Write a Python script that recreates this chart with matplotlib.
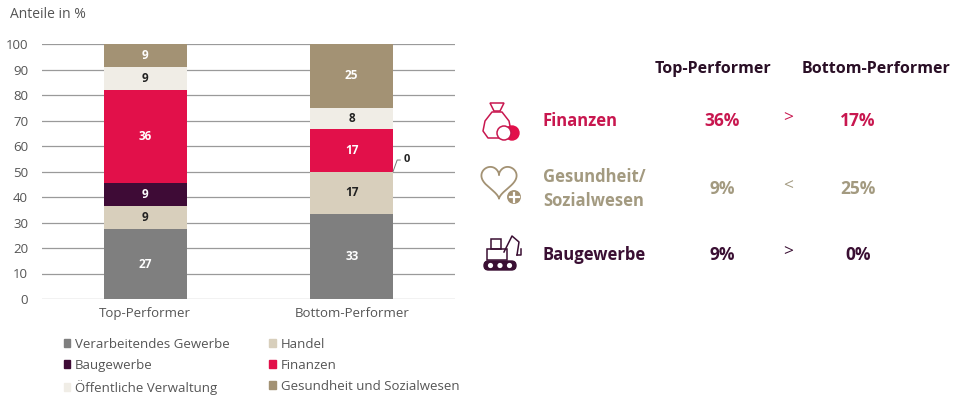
import matplotlib
matplotlib.use('Agg')
import matplotlib.pyplot as plt
from matplotlib.patches import Patch, Circle, Rectangle, FancyBboxPatch, Polygon
import numpy as np

plt.rcParams['font.family'] = ['Open Sans', 'DejaVu Sans']

groups = ['Top-Performer', 'Bottom-Performer']
sectors = ['Verarbeitendes Gewerbe', 'Handel', 'Baugewerbe', 'Finanzen',
           'Öffentliche Verwaltung', 'Gesundheit und Sozialwesen']
top_vals = [27.3, 9.1, 9.1, 36.4, 9.1, 9.1]
bottom_vals = [33.3, 16.7, 0.0, 16.7, 8.3, 25.0]
colors = ['#7f7f7f', '#d8cfbc', '#3e0b36', '#e2104a', '#f0ede6', '#a39274']
text_colors = ['white', '#222222', 'white', 'white', '#222222', 'white']

# comparison table on the right
tbl_rows = ['Finanzen', 'Gesundheit/\nSozialwesen', 'Baugewerbe']
tbl_top = ['36%', '9%', '9%']
tbl_bottom = ['17%', '25%', '0%']
tbl_sign = ['>', '<', '>']
tbl_colors = ['#c8174f', '#a39a80', '#3a0f33']

fig = plt.figure(figsize=(9.6, 4), dpi=100)
ax = fig.add_axes([42/960, 1-299/400, (455-42)/960, (299-44)/400])

data = np.array([top_vals, bottom_vals])
x = np.arange(len(groups))
bottoms = np.zeros(len(groups))
for i, s in enumerate(sectors):
    vals = data[:, i]
    ax.bar(x, vals, 0.4, bottom=bottoms, color=colors[i], label=s, zorder=3)
    for j in range(len(groups)):
        if vals[j] > 0:
            ax.text(x[j], bottoms[j] + vals[j]/2, str(int(round(vals[j]))),
                    ha='center', va='center', fontsize=8.5, fontweight='bold',
                    color=text_colors[i], zorder=4)
        else:
            yy = bottoms[j]
            ax.plot([x[j]+0.2, x[j]+0.22, x[j]+0.235], [yy, yy+4.5, yy+4.5],
                    color='#777777', lw=0.7, zorder=4)
            ax.text(x[j]+0.25, yy+4.7, '0', ha='left', va='center',
                    fontsize=8, fontweight='bold', color='#222222')
    bottoms += vals

ax.set_xlim(-0.5, 1.5)
ax.set_ylim(0, 100)
ax.set_yticks(range(0, 101, 10))
ax.yaxis.grid(True, color='#9a9a9a', lw=0.9, zorder=0)
ax.set_axisbelow(True)
for sp in ax.spines.values():
    sp.set_visible(False)
ax.tick_params(axis='both', length=0, labelsize=9.5, colors='#555555', pad=6)
ax.tick_params(axis='y', pad=10)
ax.set_xticks(x)
ax.set_xticklabels(groups)

fig.text(10/960, 1-15/400, 'Anteile in %', fontsize=10, color='#555555', va='center')

handles = [Patch(color=colors[i]) for i in [0, 2, 4, 1, 3, 5]]
labels = [sectors[i] for i in [0, 2, 4, 1, 3, 5]]
fig.legend(handles, labels, ncol=2, loc='upper left',
           bbox_to_anchor=(52/960, 1-326/400), frameon=False,
           fontsize=9.5, handlelength=0.5, handleheight=0.5, handletextpad=0.35,
           columnspacing=3.0, labelspacing=0.6, labelcolor='#555555')

# right panel in pixel coordinates
ov = fig.add_axes([0, 0, 1, 1])
ov.set_xlim(0, 960)
ov.set_ylim(400, 0)
ov.axis('off')

ov.text(713, 69, 'Top-Performer', ha='center', va='center', fontsize=11.5,
        fontweight='bold', color='#2a0f26')
ov.text(876, 69, 'Bottom-Performer', ha='center', va='center', fontsize=11.5,
        fontweight='bold', color='#2a0f26')
row_y = [121, 189, 255]
for k in range(3):
    c = tbl_colors[k]
    ov.text(543, row_y[k], tbl_rows[k], ha='left', va='center', fontsize=12,
            fontweight='bold', color=c, linespacing=1.45)
    ov.text(722, row_y[k], tbl_top[k], ha='center', va='center', fontsize=12.5,
            fontweight='bold', color=c)
    ov.text(788, row_y[k] - 3, tbl_sign[k], ha='center', va='center', fontsize=12.5,
            color=c)
    ov.text(858, row_y[k], tbl_bottom[k], ha='center', va='center', fontsize=12.5,
            fontweight='bold', color=c)

# icon: money bag with coins
c0 = tbl_colors[0]
bag = Polygon([(492, 112), (485, 121), (483, 131), (488, 138), (506, 138),
               (511, 131), (509, 121), (502, 112)], closed=True, fill=False,
              ec=c0, lw=1.1, joinstyle='round')
ov.add_patch(bag)
ov.add_patch(Polygon([(490, 103), (504, 103), (500, 111), (494, 111)], closed=True,
                     fill=False, ec=c0, lw=1.1))
ov.add_patch(Circle((512, 133), 7, color='#e2104a'))
ov.add_patch(Circle((504, 133), 7, fc='white', ec=c0, lw=1.1))

# icon: heart with plus
c1 = '#a39274'
t = np.linspace(0, 2*np.pi, 200)
hx = 16*np.sin(t)**3
hy = 13*np.cos(t) - 5*np.cos(2*t) - 2*np.cos(3*t) - np.cos(4*t)
ov.plot(499 + hx*1.1, 180 - hy*1.1, color=c1, lw=1.3)
ov.add_patch(Circle((514, 197), 8, color=c1, ec='white', lw=1.5))
ov.plot([509.5, 518.5], [197, 197], color='white', lw=1.6)
ov.plot([514, 514], [192.5, 201.5], color='white', lw=1.6)

# icon: excavator
c2 = tbl_colors[2]
ov.add_patch(FancyBboxPatch((484, 261), 32, 9, boxstyle='round,pad=0,rounding_size=4.5',
                            color=c2))
for cx in [490.5, 500, 509.5]:
    ov.add_patch(Circle((cx, 265.5), 2.6, fc='white', ec='none'))
ov.add_patch(Rectangle((487, 249), 20, 11, fill=False, ec=c2, lw=1.1))
ov.add_patch(Rectangle((491, 239), 10, 10, fill=False, ec=c2, lw=1.1))
ov.plot([504, 512, 519, 517], [252, 236, 242, 255], color=c2, lw=1.1)
ov.plot([517, 521, 521], [255, 255, 249], color=c2, lw=1.1)

fig.savefig('out.png', dpi=100)
